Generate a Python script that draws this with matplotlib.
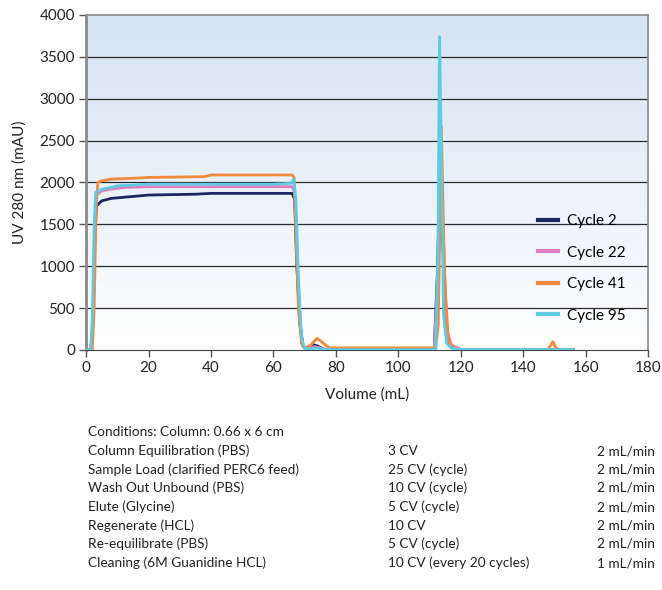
import matplotlib.pyplot as plt
import numpy as np
from matplotlib.colors import LinearSegmentedColormap

plt.rcParams["font.family"] = ["Lato", "DejaVu Sans"]

# Chromatogram traces, (volume mL, UV mAU) breakpoints per cycle
cycle2_vol = [0, 1.5, 2.2, 2.8, 3.3, 5, 8, 14, 20, 35, 40, 60, 66, 66.8, 67.5, 68.5, 69.5, 71, 73, 74, 76, 78, 100, 111.5, 112.5, 113.3, 114.3, 115.5, 117, 120, 156]
cycle2_uv = [0, 0, 300, 1300, 1720, 1780, 1810, 1830, 1850, 1860, 1870, 1870, 1870, 1800, 1000, 300, 40, 10, 60, 50, 10, 5, 5, 10, 900, 2050, 1200, 150, 40, 5, 5]

cycle22_vol = [0, 1.5, 2.2, 2.8, 3.3, 5, 8, 12, 20, 60, 66, 66.8, 67.5, 68.5, 69.5, 71, 73, 74, 76, 78, 100, 111.5, 112.5, 113.5, 114.5, 115.5, 117, 120, 156]
cycle22_uv = [0, 0, 300, 1300, 1850, 1900, 1920, 1940, 1950, 1950, 1950, 1880, 1100, 350, 40, 10, 40, 35, 10, 5, 5, 10, 800, 1950, 1300, 250, 60, 5, 5]

cycle41_vol = [0, 2.0, 2.6, 3.2, 3.8, 5, 8, 15, 20, 38, 40, 66, 66.6, 67.2, 68, 69, 70, 72, 74, 76, 78, 100, 112, 112.8, 113.8, 114.8, 116, 117.5, 120, 148, 149.5, 150.5, 152, 156]
cycle41_uv = [0, 0, 500, 1700, 2000, 2020, 2040, 2050, 2060, 2070, 2090, 2090, 2060, 1500, 500, 80, 20, 60, 140, 80, 25, 25, 25, 300, 2660, 900, 120, 20, 5, 5, 100, 20, 5, 5]

cycle95_vol = [0, 1.5, 2.0, 2.6, 3.1, 5, 8, 10, 20, 60, 65.8, 66.5, 67.2, 68, 69, 70, 73, 74, 76, 78, 100, 112, 112.7, 113.2, 113.8, 114.5, 115.5, 117, 120, 156]
cycle95_uv = [0, 0, 400, 1500, 1880, 1920, 1940, 1960, 1980, 1980, 1990, 2040, 1800, 900, 150, 15, 15, 20, 10, 5, 5, 5, 1200, 3740, 2400, 400, 80, 20, 5, 5]

series = [
    ("Cycle 2", cycle2_vol, cycle2_uv, "#1b2660"),
    ("Cycle 22", cycle22_vol, cycle22_uv, "#df7fbd"),
    ("Cycle 41", cycle41_vol, cycle41_uv, "#f28a3d"),
    ("Cycle 95", cycle95_vol, cycle95_uv, "#5ccbe3"),
]

# Run conditions table below the plot
steps = ["Conditions: Column: 0.66 x 6 cm", "Column Equilibration (PBS)",
         "Sample Load (clarified PERC6 feed)", "Wash Out Unbound (PBS)",
         "Elute (Glycine)", "Regenerate (HCL)", "Re-equilibrate (PBS)",
         "Cleaning (6M Guanidine HCL)"]
volumes = ["", "3 CV", "25 CV (cycle)", "10 CV (cycle)", "5 CV (cycle)",
           "10 CV", "5 CV (cycle)", "10 CV (every 20 cycles)"]
flows = ["", "2 mL/min", "2 mL/min", "2 mL/min", "2 mL/min", "2 mL/min",
         "2 mL/min", "1 mL/min"]

fig = plt.figure(figsize=(6.62, 5.90), dpi=100)
ax = fig.add_axes([0.130, 0.4068, 0.849, 0.5678])

# soft blue-to-white background
grad = LinearSegmentedColormap.from_list("bg", ["#ffffff", "#d5e3f2"])
ax.imshow(np.linspace(0, 1, 256).reshape(-1, 1), cmap=grad, aspect="auto",
          extent=[0, 1, 0, 1], transform=ax.transAxes, origin="lower", zorder=0)

for i in range(1, 8):
    ax.axhline(i * 500, color="#2b2b2b", lw=0.9, zorder=1)

for label, vol, uv, color in series:
    ax.plot(vol, uv, color=color, lw=2.0, label=label, zorder=3)

ax.set_xlim(0, 180)
ax.set_ylim(0, 4000)
ax.set_xticks(range(0, 181, 20))
ax.set_yticks(range(0, 4001, 500))
ax.tick_params(axis="both", labelsize=11, color="#555555", length=5, width=1,
               labelcolor="#222222")
ax.tick_params(axis="x", direction="out", pad=3)
ax.tick_params(axis="y", direction="out", pad=3)
for side in ["left", "top", "right"]:
    ax.spines[side].set_color("#8a8a8a")
ax.spines["left"].set_linewidth(2)
ax.spines["top"].set_linewidth(1.2)
ax.spines["right"].set_linewidth(1.2)
ax.spines["bottom"].set_color("#444444")
ax.set_xlabel("Volume (mL)", fontsize=11, labelpad=9, color="#222222")
ax.set_ylabel("UV 280 nm (mAU)", fontsize=11, labelpad=9, color="#222222")

leg = ax.legend(loc="lower right", bbox_to_anchor=(0.985, 0.04), frameon=False,
                fontsize=11, handlelength=1.3, handletextpad=0.6,
                labelspacing=1.15)
for line in leg.get_lines():
    line.set_linewidth(3)

row_y = [432, 451, 470, 488, 507, 526, 544, 563]
for y, s, v, f in zip(row_y, steps, volumes, flows):
    fy = 1 - y / 590
    fig.text(88 / 662, fy, s, fontsize=9.8, va="center", ha="left", color="#222222")
    fig.text(388 / 662, fy, v, fontsize=9.8, va="center", ha="left", color="#222222")
    fig.text(655 / 662, fy, f, fontsize=9.8, va="center", ha="right", color="#222222")

fig.savefig("out.png", dpi=100)
